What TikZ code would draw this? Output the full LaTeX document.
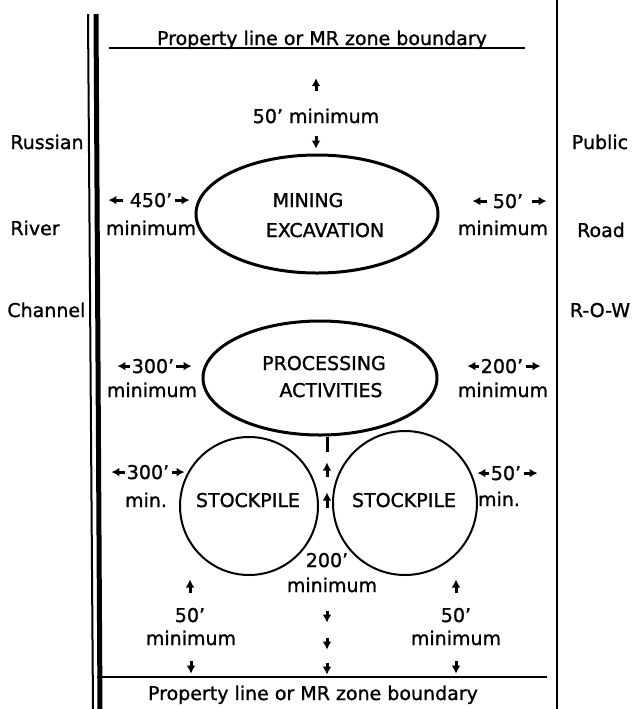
\documentclass[tikz,border=0pt]{standalone}
\usepackage{fontspec}
\setmainfont{DejaVu Sans}[UprightFeatures={FakeBold=1.2}]
\usetikzlibrary{arrows.meta,shapes.geometric}

\begin{document}
\begin{tikzpicture}[x=0.5pt,y=-0.5pt,
        lbl/.style={font=\fontsize{9.5}{11}\selectfont,inner sep=0pt,anchor=base},
        arr/.style={-{Latex[length=4pt,width=4.4pt]},line width=1.5pt},
        area/.style={draw,ellipse,line width=1.5pt,inner sep=0pt},
        pile/.style={draw,circle,line width=1pt,inner sep=0pt}]
        \useasboundingbox (0,0) rectangle (632,709);
        \draw[line width=1pt] (88,14) -- (93,709);
        \draw[line width=2.5pt] (96,14) -- (100,709);
        \draw[line width=1pt] (557,0) -- (557,709);
        \draw[line width=1pt] (109,48) -- (525,48);
        \draw[line width=1pt] (97,677) -- (547,677);
        \node[lbl] (topLine) at (322,45) {Property line or MR zone boundary};
        \node[lbl] (botLine) at (313,700) {Property line or MR zone boundary};
        \node[lbl,anchor=base west] (russian) at (10,149) {Russian};
        \node[lbl,anchor=base west] (river) at (10,235) {River};
        \node[lbl,anchor=base west] (channel) at (7,317) {Channel};
        \node[lbl] (public) at (600,149) {Public};
        \node[lbl] (road) at (601,237) {Road};
        \node[lbl] (row) at (600,317) {R-O-W};
        \node[area,minimum width=121pt,minimum height=59pt] (mineArea) at (317,214) {};
        \node[lbl] (mining) at (308,207) {MINING};
        \node[lbl] (excav) at (325,237) {EXCAVATION};
        \node[area,minimum width=117pt,minimum height=57pt] (procArea) at (320,378) {};
        \node[lbl] (proc) at (324,370) {PROCESSING};
        \node[lbl] (activ) at (331,397) {ACTIVITIES};
        \node[pile,minimum size=69pt] (pileL) at (249,506) {};
        \node[lbl] (pileLtxt) at (248,507) {STOCKPILE};
        \node[pile,minimum size=72pt] (pileR) at (405,503) {};
        \node[lbl] (pileRtxt) at (404,507) {STOCKPILE};
        \node[lbl] (dTop) at (316,123) {50' minimum};
        \draw[arr] (dTop.north) ++(0,-17) -- ++(0,-13);
        \draw[arr] (dTop.south) ++(0,12) -- ++(0,13);
        \node[lbl] (d450) at (151,207) {450'};
        \node[lbl] (m450) at (151,235) {minimum};
        \draw[arr] (d450.west) ++(-6,0) -- ++(-15,0);
        \draw[arr] (d450.east) ++(2,0) -- ++(15,0);
        \node[lbl] (d50R) at (508,208) {50'};
        \node[lbl] (m50R) at (503,235) {minimum};
        \draw[arr] (d50R.west) ++(-5,0) -- ++(-15,0);
        \draw[arr] (d50R.east) ++(8,0) -- ++(15,0);
        \node[lbl] (d300P) at (153,373) {300'};
        \node[lbl] (m300P) at (152,397) {minimum};
        \draw[arr] (d300P.west) ++(-1,0) -- ++(-13,0);
        \draw[arr] (d300P.east) ++(1,0) -- ++(16,0);
        \node[lbl] (d200P) at (502,373) {200'};
        \node[lbl] (m200P) at (503,397) {minimum};
        \draw[arr] (d200P.west) ++(-1,0) -- ++(-12,0);
        \draw[arr] (d200P.east) ++(2,0) -- ++(15,0);
        \node[lbl] (d300S) at (148,479) {300'};
        \node[lbl] (m300S) at (146,507) {min.};
        \draw[arr] (d300S.west) ++(-1,0) -- ++(-14,0);
        \draw[arr] (d300S.east) ++(2,0) -- ++(13,0);
        \node[lbl] (d50S) at (506,480) {50'};
        \node[lbl] (m50S) at (499,506) {min.};
        \draw[arr] (d50S.west) ++(-1,0) -- ++(-12,0);
        \draw[arr] (d50S.east) ++(2,0) -- ++(14,0);
        \node[lbl] (d200) at (327,567) {200'};
        \node[lbl] (m200) at (332,592) {minimum};
        \draw[line width=1.5pt] ([xshift=3.5pt]procArea.south) -- ++(0,15);
        \draw[arr] (d200.north) ++(0,-45) -- ++(0,-15);
        \draw[arr] (d200.north) ++(0,-76) -- ++(0,-14);
        \draw[arr] (d200 |- m200.south) ++(0,18) -- ++(0,12);
        \draw[arr] (d200 |- m200.south) ++(0,45) -- ++(0,12);
        \draw[arr] (d200 |- m200.south) ++(0,70) -- ++(0,12);
        \node[lbl] (d50BL) at (190,622) {50'};
        \node[lbl] (m50BL) at (191,645) {minimum};
        \draw[arr] (d50BL.north) ++(0,-15) -- ++(0,-13);
        \draw[arr] (m50BL.south) ++(0,15) -- ++(0,13);
        \node[lbl] (d50BR) at (456,622) {50'};
        \node[lbl] (m50BR) at (456,645) {minimum};
        \draw[arr] (d50BR.north) ++(0,-15) -- ++(0,-13);
        \draw[arr] (m50BR.south) ++(0,15) -- ++(0,13);
    \end{tikzpicture}
\end{document}
